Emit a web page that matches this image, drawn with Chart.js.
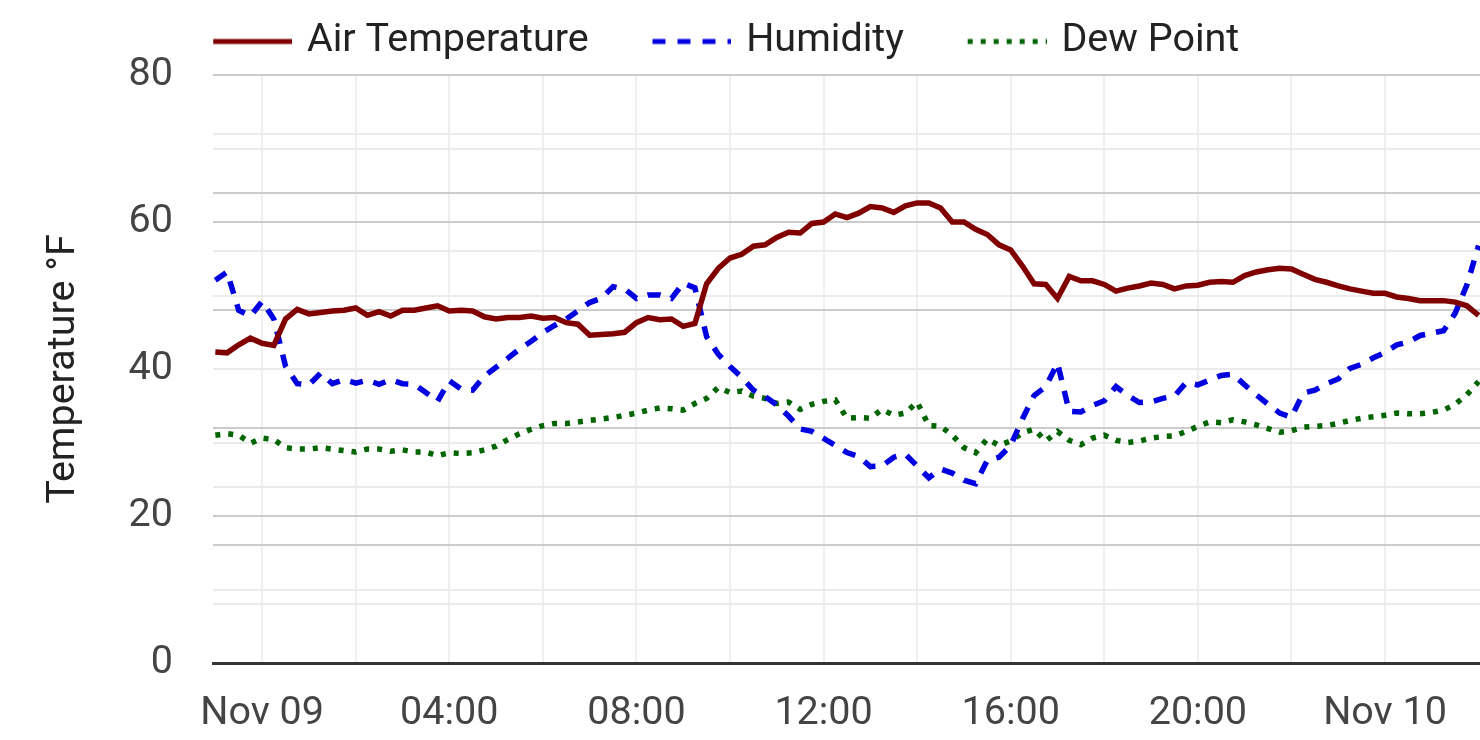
<!DOCTYPE html>
<html>
<head>
<meta charset="utf-8">
<script src="https://cdn.jsdelivr.net/npm/chart.js@4.4.1/dist/chart.umd.min.js"></script>
<style>
  html, body { margin: 0; padding: 0; background: #ffffff; }
  #wrap { width: 1480px; height: 740px; position: relative; }
</style>
</head>
<body>
<div id="wrap"><canvas id="c"></canvas></div>
<script>
// Sampling: every 15 minutes, hours relative to Nov 09 00:00
const startHour = -1.0;
const stepHours = 0.25;

const airTemperature = [
  42.3, 42.2, 43.3, 44.2, 43.5, 43.2, 46.8, 48.1, 47.5, 47.7,
  47.9, 48.0, 48.3, 47.3, 47.8, 47.2, 48.0, 48.0, 48.3, 48.6,
  47.9, 48.0, 47.9, 47.1, 46.8, 47.0, 47.0, 47.2, 46.9, 47.0,
  46.3, 46.1, 44.6, 44.7, 44.8, 45.0, 46.3, 47.0, 46.7, 46.8,
  45.8, 46.2, 51.6, 53.7, 55.1, 55.6, 56.7, 56.9, 57.9, 58.6,
  58.5, 59.8, 60.0, 61.1, 60.6, 61.2, 62.1, 61.9, 61.3, 62.2,
  62.6, 62.6, 61.9, 60.0, 60.0, 59.0, 58.3, 56.9, 56.2, 54.0,
  51.6, 51.5, 49.6, 52.6, 52.0, 52.0, 51.5, 50.6, 51.0, 51.3,
  51.7, 51.5, 50.9, 51.3, 51.4, 51.8, 51.9, 51.8, 52.7, 53.2,
  53.5, 53.7, 53.6, 52.9, 52.2, 51.8, 51.3, 50.9, 50.6, 50.3,
  50.3, 49.8, 49.6, 49.3, 49.3, 49.3, 49.1, 48.6, 47.3
];

const humidity = [
  65.1, 66.5, 60.0, 59.0, 61.5, 58.5, 50.5, 47.5, 47.3, 49.3,
  47.5, 48.2, 47.6, 48.1, 47.4, 48.2, 47.5, 47.4, 46.0, 44.5,
  48.0, 46.6, 46.4, 48.8, 50.3, 51.8, 53.4, 54.7, 56.2, 57.4,
  58.5, 59.9, 61.3, 62.0, 64.0, 63.6, 62.0, 62.6, 62.6, 62.0,
  64.6, 63.8, 55.5, 52.5, 50.4, 48.6, 46.4, 45.3, 43.9, 42.0,
  39.8, 39.4, 38.2, 37.0, 35.8, 35.1, 33.4, 33.5, 35.0, 35.5,
  33.5, 31.5, 33.0, 32.3, 31.1, 30.5, 34.5, 35.0, 37.0, 41.5,
  45.5, 47.0, 51.0, 42.8, 42.7, 43.8, 44.6, 47.0, 45.5, 44.3,
  44.4, 45.0, 45.4, 47.7, 47.3, 48.1, 48.9, 49.1, 47.3, 45.6,
  44.0, 42.5, 41.8, 45.9, 46.4, 47.5, 48.3, 50.1, 50.8, 51.9,
  52.8, 54.1, 54.6, 55.7, 56.1, 56.5, 59.5, 64.3, 71.0
];

const dewPoint = [
  31.0, 31.2, 31.0, 29.9, 30.6, 30.4, 29.3, 29.1, 29.1, 29.3,
  29.1, 28.9, 28.7, 29.1, 29.1, 28.8, 29.0, 28.7, 28.7, 28.2,
  28.6, 28.5, 28.6, 29.0, 29.5, 30.4, 31.2, 31.8, 32.3, 32.6,
  32.6, 32.8, 33.0, 33.2, 33.4, 33.7, 34.0, 34.4, 34.7, 34.6,
  34.4, 35.3, 36.0, 37.5, 36.8, 37.0, 36.3, 36.0, 35.3, 35.5,
  34.5, 35.2, 35.6, 35.8, 33.3, 33.4, 33.3, 34.5, 33.7, 34.0,
  35.5, 32.3, 32.2, 31.0, 29.3, 28.6, 30.5, 29.6, 30.2, 31.3,
  31.8, 30.2, 31.5, 30.3, 29.7, 30.6, 31.0, 30.3, 30.0, 30.2,
  30.6, 30.8, 30.9, 31.5, 32.2, 32.8, 32.7, 33.1, 32.8, 32.4,
  31.9, 31.4, 31.6, 32.1, 32.2, 32.3, 32.6, 33.0, 33.3, 33.5,
  33.7, 34.0, 33.9, 33.9, 34.1, 34.4, 35.2, 36.5, 38.3
];

const gridHours = [0, 2, 4, 6, 8, 10, 12, 14, 16, 18, 20, 22, 24];
const xTickHours = [0, 4, 8, 12, 16, 20, 24];
const xTickLabels = ['Nov 09', '04:00', '08:00', '12:00', '16:00', '20:00', 'Nov 10'];
const yTickValues = [0, 20, 40, 60, 80];

const toPoints = arr => arr.map((v, i) => ({ x: startHour + i * stepHours, y: v }));

const FONT = "Roboto, 'Noto Sans', sans-serif";
const FS = 39.5;
const majorGrid = '#cccccc';
const minorGrid = '#ebebeb';

// Legend sample geometry
const legendPad = 18.75;
const legendLead = 44.75;   // extra space before each sample
const sampleLen = 79;
const sampleGap = 15;
const legendBoxW = legendLead + sampleLen + sampleGap - FS / 2;
const legendStartX = 213;
const legendCenterY = 41.5;

function legendSample(color, dash, lw) {
  const W = Math.round(2 * (legendLead + sampleLen) - legendBoxW);
  const H = 10;
  const cv = document.createElement('canvas');
  cv.width = W; cv.height = H;
  const g = cv.getContext('2d');
  g.strokeStyle = color;
  g.lineWidth = lw;
  g.lineCap = 'butt';
  g.setLineDash(dash);
  g.beginPath();
  g.moveTo(W - sampleLen, H / 2);
  g.lineTo(W, H / 2);
  g.stroke();
  return cv;
}

const legendShift = {
  id: 'legendShift',
  afterLayout(chart) {
    const lg = chart.legend;
    if (!lg) return;
    const dx = legendStartX - (lg.left + legendPad + legendLead);
    lg.left += dx;
    lg.right += dx;
    const dy = legendCenterY - (lg.top + legendPad + FS / 2);
    lg.top += dy;
    lg.bottom += dy;
  }
};

new Chart(document.getElementById('c'), {
  type: 'line',
  data: {
    datasets: [
      {
        label: 'Air Temperature',
        data: toPoints(airTemperature),
        borderColor: '#800000',
        backgroundColor: '#800000',
        borderWidth: 5.5,
        pointRadius: 0,
        pointStyle: legendSample('#800000', [], 5),
        tension: 0,
        yAxisID: 'y'
      },
      {
        label: 'Humidity',
        data: toPoints(humidity),
        borderColor: '#0000e0',
        backgroundColor: '#0000e0',
        borderWidth: 5.5,
        borderDash: [13, 11],
        pointRadius: 0,
        pointStyle: legendSample('#0000e0', [13, 12], 5),
        tension: 0,
        yAxisID: 'y1'
      },
      {
        label: 'Dew Point',
        data: toPoints(dewPoint),
        borderColor: '#006400',
        backgroundColor: '#006400',
        borderWidth: 5.5,
        borderDash: [5, 8],
        pointRadius: 0,
        pointStyle: legendSample('#006400', [5, 8], 5),
        tension: 0,
        yAxisID: 'y'
      }
    ]
  },
  plugins: [legendShift],
  options: {
    responsive: true,
    maintainAspectRatio: false,
    devicePixelRatio: 1,
    animation: false,
    layout: { padding: { left: 0, right: 0, top: 0, bottom: 0 } },
    plugins: {
      tooltip: { enabled: false },
      legend: {
        display: true,
        position: 'top',
        align: 'start',
        labels: {
          usePointStyle: true,
          pointStyleWidth: legendBoxW,
          padding: legendPad,
          color: '#222222',
          font: { family: FONT, size: FS }
        }
      }
    },
    scales: {
      x: {
        type: 'linear',
        position: 'bottom',
        min: -1.05,
        max: 26.03,
        afterBuildTicks: axis => { axis.ticks = gridHours.map(v => ({ value: v })); },
        afterFit: axis => { axis.height = 77; },
        ticks: {
          autoSkip: false,
          maxRotation: 0,
          padding: 27,
          color: '#444444',
          font: { family: FONT, size: FS },
          callback: v => {
            const k = xTickHours.indexOf(v);
            return k >= 0 ? xTickLabels[k] : '';
          }
        },
        grid: { color: '#efefef', lineWidth: 2, drawTicks: false },
        border: { display: true, color: '#333333', width: 3 }
      },
      y: {
        position: 'left',
        min: 0,
        max: 80,
        afterFit: axis => { axis.width = 213; axis.paddingTop = 75; },
        ticks: {
          stepSize: 10,
          autoSkip: false,
          padding: 40,
          color: '#444444',
          font: { family: FONT, size: FS },
          callback: v => (yTickValues.indexOf(v) >= 0 ? String(v) : '')
        },
        title: {
          display: true,
          text: 'Temperature °F',
          color: '#222222',
          font: { family: FONT, size: FS },
          padding: { top: 40, bottom: 0 }
        },
        grid: {
          color: ctx => (ctx.tick && ctx.tick.value % 20 === 0 ? majorGrid : minorGrid),
          lineWidth: 2,
          drawTicks: false
        },
        border: { display: false }
      },
      y1: {
        position: 'right',
        min: 0,
        max: 100,
        afterFit: axis => { axis.width = 0; },
        ticks: { stepSize: 10, display: false },
        grid: {
          color: ctx => (ctx.tick && ctx.tick.value % 20 === 0 ? majorGrid : minorGrid),
          lineWidth: 2,
          drawTicks: false
        },
        border: { display: false }
      }
    }
  }
});
</script>
</body>
</html>
